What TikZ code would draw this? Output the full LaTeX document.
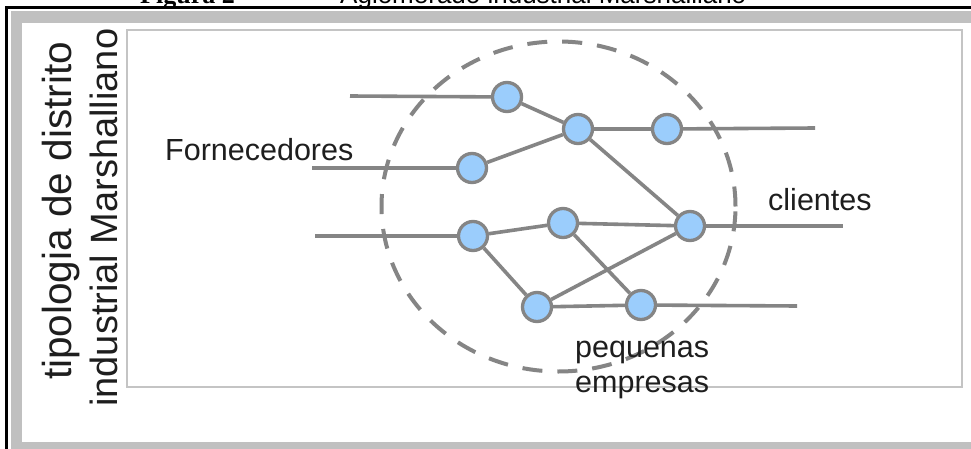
\documentclass[tikz,border=0pt]{standalone}
\usepackage{fontspec}
\setmainfont{Liberation Sans}
\newfontfamily\serifcap{Liberation Serif}
\definecolor{lnk}{RGB}{133,133,133}
\definecolor{nodefill}{RGB}{155,205,252}
\definecolor{band}{RGB}{192,192,192}
\definecolor{panel}{RGB}{196,196,196}
\definecolor{txt}{RGB}{30,30,30}
\begin{document}
\begin{tikzpicture}[x=1pt,y=1pt,
  smb/.style={circle, draw=lnk, fill=nodefill, line width=3.3pt, minimum size=29pt, inner sep=0pt},
  link/.style={draw=lnk, line width=3.6pt},
  lbl/.style={font=\fontsize{30.5}{36}\selectfont, text=txt, inner sep=0pt, anchor=base west},
  vlbl/.style={rotate=90, inner sep=0pt, anchor=base west, text=txt}]
\useasboundingbox (0,0) rectangle (971,448);
\clip (0,0) rectangle (971,448);
% caption (cut off at the top)
\node[anchor=base west, inner sep=0pt, font=\serifcap\bfseries\fontsize{26}{30}\selectfont] (cap1) at (140,444) {Figura 2};
\node[anchor=base west, inner sep=0pt, font=\fontsize{26}{30}\selectfont] (cap2) at (340,444) {Aglomerado industrial Marshalliano};
% frames
\fill[band] (11,-5) rectangle (980,437);
\fill[white] (22,6) rectangle (980,425);
\draw[line width=3pt] (6.5,-2) -- (6.5,440.5) -- (975,440.5);
\draw[panel, line width=2pt] (127,61) rectangle (962,418);
% vertical title
\node[vlbl, font=\fontsize{40.5}{42}\selectfont] (t1) at (71,68) {tipologia de distrito};
\node[vlbl, font=\fontsize{38}{40}\selectfont] (t2) at (117,41) {industrial Marshalliano};
% dashed boundary
\draw[lnk, line width=4pt, dash pattern=on 20pt off 15pt] (558.5,241.5) ellipse [x radius=177, y radius=165];
% free ends
\coordinate (a1) at (350,352);
\coordinate (a2) at (312,280);
\coordinate (a3) at (315,212);
\coordinate (b1) at (815,320);
\coordinate (b2) at (843,222);
\coordinate (b3) at (797,142);
% firms
\node[smb] (n1) at (507,351) {};
\node[smb] (n2) at (578,319) {};
\node[smb] (n3) at (667,319) {};
\node[smb] (n4) at (472,280) {};
\node[smb] (n5) at (473,212) {};
\node[smb] (n6) at (563,225) {};
\node[smb] (n7) at (690,222) {};
\node[smb] (n8) at (537,141) {};
\node[smb] (n9) at (641,143) {};
% links
\draw[link] (a1) -- (n1);
\draw[link] (a2) -- (n4);
\draw[link] (a3) -- (n5);
\draw[link] (n3) -- (b1);
\draw[link] (n7) -- (b2);
\draw[link] (n9) -- (b3);
\draw[link] (n1) -- (n2);
\draw[link] (n4) -- (n2);
\draw[link] (n2) -- (n3);
\draw[link] (n2) -- (n7);
\draw[link] (n5) -- (n6);
\draw[link] (n5) -- (n8);
\draw[link] (n6) -- (n7);
\draw[link] (n6) -- (n9);
\draw[link] (n8) -- (n7);
\draw[link] (n8) -- (n9);
% labels
\node[lbl] (forn) at (165,288) {Fornecedores};
\node[lbl] (cli) at (768,238) {clientes};
\node[lbl] (peq1) at (575,91) {pequenas};
\node[lbl] (peq2) at (575,56) {empresas};
\end{tikzpicture}
\end{document}
